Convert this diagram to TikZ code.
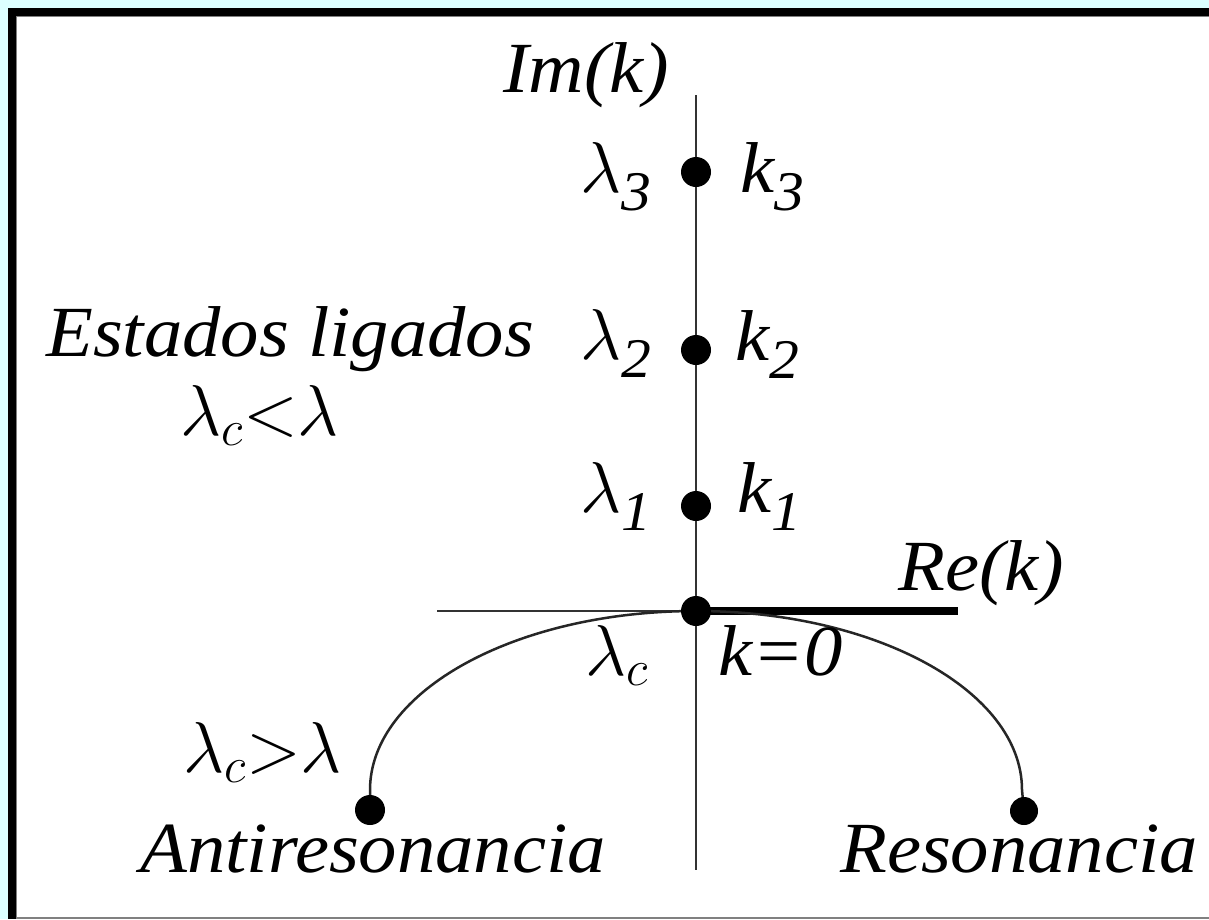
\RequirePackage{fix-cm}
\documentclass[tikz,border=0pt]{standalone}
\usepackage{fontspec}
\setmainfont{Liberation Serif}[FakeStretch=1.065]
\usetikzlibrary{backgrounds}
\definecolor{bgcyan}{RGB}{220,255,255}
\newcommand\subdig[1]{\raisebox{-18pt}{\fontsize{56}{56}\selectfont\itshape #1}}
\begin{document}
\begin{tikzpicture}[x=1pt,y=-1pt,
  lbl/.style={anchor=base west,inner sep=0pt,font=\fontsize{72}{80}\selectfont\itshape},
  dotmark/.style={circle,fill=black,inner sep=0pt,minimum size=30pt},
  axisline/.style={line width=2.5pt,draw=black!80},
  thickline/.style={line width=8pt,draw=black},
  curveline/.style={line width=2.5pt,draw=black!85}]
\useasboundingbox (0,0) rectangle (1209,919);
% dots
\node[dotmark] (o) at (696,611) {};
\node[dotmark] (d1) at (696,506) {};
\node[dotmark] (d2) at (696,350) {};
\node[dotmark] (d3) at (696,172) {};
\node[dotmark] (ar) at (370,810) {};
\node[dotmark,minimum size=28pt] (rs) at (1024,811) {};
\coordinate (vtop) at (696,95);
\coordinate (vbot) at (696,870);
\coordinate (hl) at (437,611);
\coordinate (hr) at (958,611);
\begin{scope}[on background layer]
  \fill[bgcyan] (0,0) rectangle (1209,919);
  \fill[black] (8,8) rectangle (1209,919);
  \fill[gray] (16,16) rectangle (1209,919);
  \fill[white] (17,17) rectangle (1209,917);
  \draw[axisline] (vtop) -- (vbot);
  \draw[axisline] (hl) -- (o.center);
  \draw[thickline] (o.center) -- (hr);
  \draw[curveline] (o.center) .. controls (516,611) and (370,691) .. (370,790) -- (ar.center);
  \draw[curveline] (o.center) .. controls (876,611) and (1022,691) .. (1022,790) -- (rs.center);
\end{scope}
% labels
\node[lbl] (l3) at (580,192) {$\lambda$\subdig{3}};
\node[lbl] (im) at (503,92) {Im(k)};
\node[lbl] (k3) at (740,192) {k\subdig{3}};
\node[lbl] (est) at (46,356) {Estados ligados};
\node[lbl] (l2) at (580,359) {$\lambda$\subdig{2}};
\node[lbl] (k2) at (735,360) {k\subdig{2}};
\node[lbl] (lcl) at (180,435) {$\lambda_c{<}\lambda$};
\node[lbl] (l1) at (580,512) {$\lambda$\subdig{1}};
\node[lbl] (k1) at (737,512) {k\subdig{1}};
\node[lbl] (re) at (898,590) {Re(k)};
\node[lbl] (lc) at (585,675) {$\lambda_c$};
\node[lbl] (k0) at (718,675) {k=0};
\node[lbl] (lcg) at (183,772) {$\lambda_c{>}\lambda$};
\node[lbl] (anti) at (140,872) {Antiresonancia};
\node[lbl] (reso) at (840,872) {Resonancia};
\end{tikzpicture}
\end{document}
